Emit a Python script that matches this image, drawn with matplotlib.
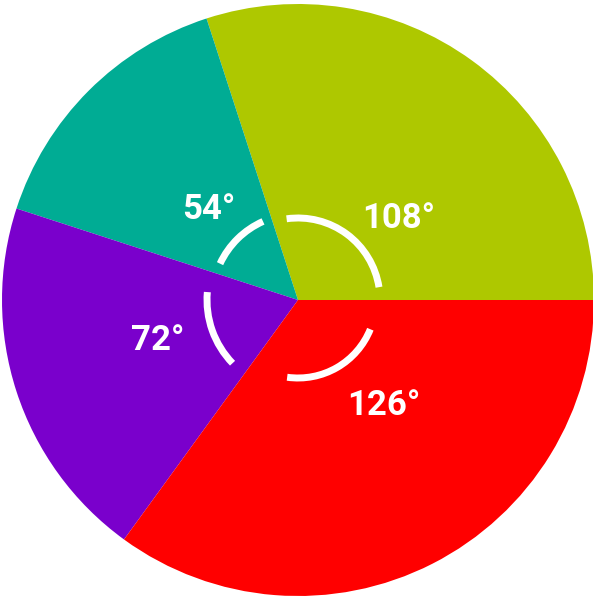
import numpy as np
import matplotlib
matplotlib.use("Agg")
import matplotlib.pyplot as plt
from matplotlib.patches import Arc

# data
angles = [108, 54, 72, 126]
labels = ["108°", "54°", "72°", "126°"]
colors = ["#AEC800", "#00AC94", "#7A00CC", "#FF0000"]

# style: label placement (angle deg, radius px) and arc marker (radius px, span deg)
label_pos = [(39, 129), (134.5, 127), (196, 146), (309, 136)]
arc_radius = [82, 86, 91, 78]
arc_span = [(9, 98), (114, 155), (175, 224), (262, 338)]

W, H = 593, 600
cx, cy = 298, 300
R = 296

fig = plt.figure(figsize=(W / 100, H / 100), dpi=100)
ax = fig.add_axes([0, 0, 1, 1])
ax.pie(angles, colors=colors, startangle=0, counterclock=True, radius=R,
       center=(0, 0), wedgeprops=dict(linewidth=0))
ax.set_xlim(-cx, W - cx)
ax.set_ylim(-(H - cy), cy)
ax.set_aspect('equal', adjustable='box')
ax.axis('off')

for (a0, a1), r in zip(arc_span, arc_radius):
    ax.add_patch(Arc((0, 0), 2 * r, 2 * r, theta1=a0, theta2=a1,
                     color="white", lw=5, capstyle='butt'))

for lab, (ang, rr) in zip(labels, label_pos):
    t = np.deg2rad(ang)
    ax.text(rr * np.cos(t), rr * np.sin(t), lab, color="white",
            fontsize=25, fontweight="bold", family="Roboto",
            ha="center", va="center")

fig.savefig("out.png", dpi=100)
